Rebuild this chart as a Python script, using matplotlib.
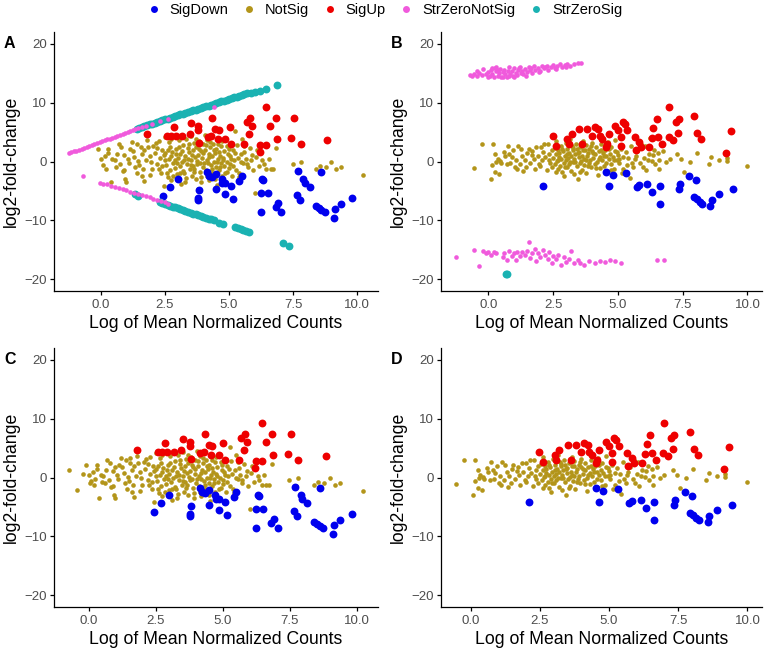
import numpy as np
import matplotlib
matplotlib.use("Agg")
import matplotlib.pyplot as plt
from matplotlib.lines import Line2D

plt.rcParams['font.family'] = ['Liberation Sans', 'DejaVu Sans']

# ---- data (x = log mean normalized counts, y = log2 fold change) ----
categories = ['SigDown', 'NotSig', 'SigUp', 'StrZeroNotSig', 'StrZeroSig']
colors = {'SigDown': '#0000EE', 'NotSig': '#B3951A', 'SigUp': '#EE0000',
          'StrZeroNotSig': '#F05ADC', 'StrZeroSig': '#1AB2B2'}

# panels A and C share the same genes for NotSig / SigUp / SigDown
ac_notsig = [
    (-0.1, 2.1), (0.0, 0.4), (0.1, -0.6), (0.15, 0.9), (0.2, -1.3), (0.3, 2.2), (0.3, 1.5), (0.4, -3.4),
    (0.45, 0.5), (0.55, 0.3), (0.6, -0.9), (0.7, 2.9), (0.75, -0.4), (0.8, 2.4), (0.85, -1.6), (0.9, 1.1),
    (0.95, -2.9), (1.0, -3.4), (1.05, 0.5), (1.1, -0.2), (1.2, 3.3), (1.25, 1.8), (1.3, 0.8), (1.35, -1.0),
    (1.4, 3.0), (1.45, 0.1), (1.5, -0.6), (1.55, 2.5), (1.6, 1.2), (1.65, -1.2), (1.7, -3.3), (1.75, 0.3),
    (1.8, 3.6), (1.85, 2.5), (1.9, 0.9), (1.92, -2.3), (1.95, -0.1), (2.05, 2.7), (2.1, 1.4), (2.15, 3.1),
    (2.2, -0.4), (2.25, -1.2), (2.3, 0.6), (2.35, -1.9), (2.4, 1.9), (2.45, 1.05), (2.45, -4.2), (2.5, 4.1),
    (2.5, 0.3), (2.55, -0.6), (2.6, 2.0), (2.62, -2.7), (2.65, 3.3), (2.68, 2.5), (2.7, -1.5), (2.72, 0.9),
    (2.75, -3.1), (2.78, 1.6), (2.8, -0.3), (2.85, 4.4), (2.88, 0.2), (2.9, -1.1), (2.95, 2.2), (2.98, -2.1),
    (3.0, 0.6), (3.05, 3.6), (3.08, -0.8), (3.1, 1.3), (3.12, -3.8), (3.15, 0.0), (3.2, 2.8), (3.22, -1.6),
    (3.25, -2.0), (3.28, 1.0), (3.3, -3.4), (3.32, 3.9), (3.35, -0.4), (3.38, 0.5), (3.4, 2.3), (3.45, 1.6),
    (3.48, -1.2), (3.5, 4.3), (3.52, 0.2), (3.55, -2.5), (3.58, 1.9), (3.6, -0.7), (3.62, 3.1), (3.65, -1.2),
    (3.68, 0.8), (3.7, -3.0), (3.72, 2.5), (3.75, 0.1), (3.78, 1.05), (3.8, -4.6), (3.82, 3.4), (3.85, -0.3),
    (3.88, -1.75), (3.9, 1.7), (3.92, -2.6), (3.95, 0.6), (3.98, 2.9), (4.0, -0.9), (4.05, 4.5), (4.08, 1.9),
    (4.1, -1.5), (4.12, 0.3), (4.15, 3.6), (4.18, -0.2), (4.2, -3.1), (4.22, 1.2), (4.25, 2.4), (4.3, -0.6),
    (4.32, 0.9), (4.35, -2.0), (4.38, 3.0), (4.4, -0.1), (4.45, 1.5), (4.48, -1.0), (4.5, 2.2), (4.52, -4.0),
    (4.55, 0.4), (4.58, 3.0), (4.6, -1.4), (4.65, 1.0), (4.68, -0.3), (4.7, 2.6), (4.72, -2.4), (4.75, 0.6),
    (4.8, 1.8), (4.82, -0.8), (4.85, 3.9), (4.9, 0.0), (4.92, -1.7), (4.95, 1.3), (4.98, 2.2), (5.02, -0.5),
    (5.05, 0.9), (5.1, -2.4), (5.15, 1.9), (5.2, 0.3), (5.25, 5.2), (5.28, -1.4), (5.32, 2.8), (5.35, 0.6),
    (5.4, -2.7), (5.45, 1.2), (5.5, 3.8), (5.55, -0.2), (5.6, 1.6), (5.65, 0.45), (5.72, -1.0), (5.8, 2.3),
    (5.85, 0.2), (5.95, -1.5), (6.0, -5.3), (6.05, 0.7), (6.1, 2.0), (6.2, 1.8), (6.3, 0.2), (6.36, -0.4),
    (6.45, -1.3), (6.55, 0.5), (6.62, -1.2), (6.72, -1.2), (6.84, 2.3), (7.48, -0.5), (7.72, -1.4),
    (7.81, -0.1), (8.39, -1.2), (8.56, -0.8), (8.78, -0.95), (8.98, -0.1), (9.18, -1.35), (9.36, -0.95),
    (10.23, -2.24),
    (2.52, 1.5), (2.58, -1.9), (2.66, 0.5), (2.74, 3.9), (2.83, -2.4), (2.92, 1.2), (2.97, -0.3),
    (3.03, 2.5), (3.1, -1.9), (3.18, 1.7), (3.26, 0.3), (3.34, -2.8), (3.42, 2.9), (3.5, -0.6), (3.57, 1.1),
    (3.63, -1.8), (3.71, 3.8), (3.76, -0.4), (3.84, 2.1), (3.91, -3.5), (3.97, 1.4), (4.03, -0.2),
    (4.09, 2.8), (4.14, -2.4), (4.2, 0.7), (4.27, 3.3), (4.33, -1.2), (4.41, 1.9), (4.47, -2.9), (4.53, 0.0),
    (4.59, 1.6), (4.66, -0.9), (4.73, 3.4), (4.78, 0.3), (4.86, -2.0), (4.93, 2.6), (5.0, -1.1), (5.08, 0.4),
    (5.17, -0.7), (5.24, 1.4), (5.38, -1.9), (5.48, 0.0), (5.58, 2.6), (5.7, -0.5), (5.9, 1.1), (6.15, -0.8),
    (1.15, 2.1), (1.42, -2.0), (1.7, 1.9), (2.0, -1.2), (2.2, 2.3), (2.38, -0.8), (0.65, 1.3), (0.92, -1.4),
    (1.6, -2.5), (2.28, 3.5),
]
c_notsig_extra = [(-0.74, 1.2), (-0.44, -2.2), (-0.2, 0.6), (0.05, -1.0), (0.25, -0.3), (0.5, -0.8),
                  (1.0, 1.7), (1.55, 3.3)]
ac_up = [
    (1.79, 4.7), (2.59, 4.3), (2.72, 4.4), (2.86, 5.8), (2.93, 4.4), (3.17, 4.4), (3.46, 4.7), (3.52, 6.6),
    (3.79, 6.1), (3.79, 5.3), (3.83, 3.1), (4.32, 7.35), (4.16, 4.2), (4.28, 4.4), (4.47, 5.6), (4.59, 5.3),
    (4.56, 3.9), (4.84, 3.9), (5.02, 5.8), (5.09, 3.0), (5.6, 2.9), (5.68, 6.7), (5.83, 7.4), (5.77, 4.7),
    (5.9, 6.1), (6.22, 2.75), (6.44, 9.3), (6.6, 6.0), (6.44, 2.75), (6.84, 7.4), (6.88, 3.9), (6.2, 1.6),
    (7.41, 4.0), (7.52, 7.4), (7.8, 3.0), (8.83, 3.7),
]
ac_down = [
    (2.43, -5.8), (2.7, -4.4), (3.01, -2.9), (3.81, -4.8), (3.79, -6.2), (3.77, -6.5), (4.14, -1.75),
    (4.22, -2.5), (4.35, -2.6), (4.5, -2.1), (4.49, -4.7), (4.72, -2.9), (4.74, -3.6), (4.84, -3.7),
    (4.84, -5.6), (5.09, -4.2), (5.14, -6.4), (5.4, -3.3), (5.49, -2.4), (6.23, -5.4), (6.23, -8.6),
    (6.3, -2.9), (6.33, -3.1), (6.5, -5.4), (6.81, -7.75), (6.9, -7.0), (7.04, -8.6), (7.68, -1.6),
    (7.64, -5.7), (7.77, -6.5), (7.9, -2.9), (7.96, -3.7), (8.15, -4.4), (8.4, -7.5), (8.51, -7.9),
    (8.6, -8.2), (8.73, -8.6), (8.6, -1.85), (9.1, -9.6), (9.14, -8.1), (9.35, -7.2), (9.81, -6.2),
]
a_strzero_notsig = [
    (-1.25, 1.4), (-1.15, 1.55), (-1.05, 1.7), (-0.95, 1.85), (-0.85, 2.0), (-0.75, 2.15), (-0.65, 2.35),
    (-0.55, 2.5), (-0.45, 2.65), (-0.35, 2.8), (-0.25, 3.0), (-0.15, 3.15), (-0.05, 3.3), (0.05, 3.45),
    (0.15, 3.6), (0.25, 3.75), (0.35, 3.9), (0.45, 4.05), (0.55, 4.2), (0.65, 4.4), (0.75, 4.55),
    (0.85, 4.7), (0.95, 4.85), (1.05, 5.0), (1.15, 5.15), (1.25, 5.3), (1.35, 5.5), (1.45, 5.65),
    (1.6, 5.85), (1.75, 6.05), (2.0, 6.4), (2.3, 6.8), (2.6, 7.2), (4.4, 9.3),
    (-0.71, -2.5), (-0.05, -3.6), (0.1, -3.75), (0.25, -3.9), (0.4, -4.1), (0.55, -4.3), (0.7, -4.5),
    (0.85, -4.7), (1.0, -4.9), (1.15, -5.1), (1.3, -5.3), (1.45, -5.5), (1.6, -5.7), (1.75, -5.9),
    (1.9, -6.1), (2.05, -6.3), (2.2, -6.55), (2.35, -6.75), (2.5, -6.95), (2.6, -7.2),
]
a_strzero_sig = [
    (1.4, 5.6), (1.5, 5.75), (1.6, 5.9), (1.7, 6.0), (1.8, 6.15), (1.9, 6.3), (2.0, 6.45), (2.1, 6.6),
    (2.2, 6.7), (2.3, 6.85), (2.4, 7.0), (2.5, 7.15), (2.6, 7.3), (2.7, 7.4), (2.8, 7.55), (2.9, 7.7),
    (3.0, 7.85), (3.1, 8.0), (3.2, 8.1), (3.3, 8.25), (3.4, 8.4), (3.5, 8.55), (3.6, 8.7), (3.7, 8.8),
    (3.8, 8.95), (3.9, 9.1), (4.0, 9.25), (4.1, 9.4), (4.2, 9.5), (4.3, 9.65), (4.4, 9.8), (4.5, 9.95),
    (4.6, 10.1), (4.7, 10.2), (4.8, 10.35), (4.9, 10.5), (5.0, 10.6), (5.1, 10.75), (5.2, 10.9),
    (5.3, 11.0), (5.4, 11.15), (5.5, 11.3), (5.6, 11.45), (5.7, 11.6), (5.85, 11.7), (6.0, 11.8),
    (6.2, 11.95), (6.45, 12.3), (6.86, 13.0),
    (1.32, -5.6), (1.45, -5.8), (2.3, -6.9), (2.4, -7.05), (2.5, -7.2), (2.6, -7.35), (2.7, -7.5),
    (2.8, -7.65), (2.9, -7.8), (3.0, -7.95), (3.1, -8.1), (3.2, -8.25), (3.3, -8.4), (3.4, -8.55),
    (3.5, -8.7), (3.6, -8.85), (3.7, -9.0), (3.8, -9.15), (3.9, -9.3), (4.0, -9.45), (4.1, -9.6),
    (4.2, -9.7), (4.3, -9.85), (4.4, -10.0), (4.6, -10.5), (4.75, -10.7), (5.25, -11.2), (5.35, -11.35),
    (5.45, -11.5), (5.55, -11.6), (5.65, -11.75), (5.78, -12.0), (7.1, -13.9), (7.32, -14.3),
]

# panels B and D share the same genes for NotSig / SigUp / SigDown
bd_notsig = [
    (-0.54, -1.1), (-0.24, 3.0), (0.1, -2.9), (0.17, 3.0), (0.15, -0.6), (0.26, 1.35), (0.3, -0.1),
    (0.26, -1.7), (0.35, 0.5), (0.42, -2.1), (0.5, -0.3), (0.6, 1.6), (0.62, 0.9), (0.7, -0.4), (0.75, 2.7),
    (0.83, -0.2), (0.89, 0.7), (0.95, 1.9), (1.01, -0.9), (1.05, 0.3), (1.13, 2.6), (1.2, -0.4), (1.25, 2.2),
    (1.3, 0.9), (1.35, -1.6), (1.45, -0.9), (1.5, 1.4), (1.55, 2.2), (1.6, -0.2), (1.67, 1.1), (1.75, 0.4),
    (1.8, -1.2), (1.85, 2.5), (1.9, 1.0), (1.95, -0.5), (2.02, 2.4), (2.08, 0.2), (2.12, 1.6), (2.2, 0.8),
    (2.25, -1.4), (2.3, 2.9), (2.32, 0.2), (2.38, -0.3), (2.44, -0.9), (2.45, 1.9), (2.5, 0.6),
    (2.55, 2.3), (2.58, -0.4), (2.6, 1.2), (2.62, 3.4), (2.65, 0.1), (2.68, -1.3), (2.7, 2.0), (2.72, 0.8),
    (2.74, 1.4), (2.78, -0.7), (2.8, 2.7), (2.82, 0.4), (2.85, -1.8), (2.88, 1.7), (2.9, -0.2), (2.92, -2.5),
    (2.95, 1.0), (2.98, 3.2), (3.0, 0.2), (3.02, -1.0), (3.05, 2.2), (3.08, 0.6), (3.1, -0.5), (3.12, 1.5),
    (3.15, 3.8), (3.18, -1.6), (3.2, 0.9), (3.22, 2.6), (3.25, -0.1), (3.28, 1.9), (3.3, -2.2), (3.32, 0.4),
    (3.35, 1.2), (3.38, 3.0), (3.4, -0.8), (3.42, 2.1), (3.45, -2.9), (3.48, 0.7), (3.5, 1.6), (3.52, -0.3),
    (3.55, 2.4), (3.58, 0.1), (3.6, -1.4), (3.62, 1.0), (3.65, 3.5), (3.68, 0.5), (3.7, -0.6), (3.72, 1.9),
    (3.75, 2.8), (3.78, -1.9), (3.8, 0.9), (3.85, 1.4), (3.88, -0.2), (3.9, 2.2), (3.92, 0.3), (3.95, -1.0),
    (3.98, 1.7), (4.0, 3.1), (4.05, 0.6), (4.1, -0.5), (4.12, 1.2), (4.15, 2.5), (4.2, 0.0), (4.22, -2.3),
    (4.25, 1.8), (4.3, 0.8), (4.32, -1.1), (4.35, 2.9), (4.4, 0.3), (4.42, 1.5), (4.45, -0.7), (4.5, 2.0),
    (4.55, 0.9), (4.58, -1.6), (4.6, 3.3), (4.65, 0.4), (4.7, 1.3), (4.72, -0.4), (4.75, 2.4), (4.8, 0.7),
    (4.85, -1.2), (4.88, 1.8), (4.9, 3.6), (4.95, 0.2), (5.0, 1.1), (5.05, -0.3), (5.1, 2.1), (5.15, -2.0),
    (5.2, 0.8), (5.3, 1.6), (5.35, -0.6), (5.45, -2.8), (5.5, 2.6), (5.6, -1.0), (5.65, 0.4), (5.75, 1.8),
    (5.85, -0.3), (5.9, 3.0), (6.0, 0.6), (6.05, 2.7), (6.1, -1.4), (6.2, 1.3), (6.25, 4.0), (6.3, 0.1),
    (6.4, 2.0), (6.45, -0.5), (6.55, 1.4), (6.6, 0.3), (6.7, 3.2), (6.75, 1.8), (6.85, 0.0), (7.3, 1.3),
    (7.45, 0.4), (7.55, -1.8), (7.8, 0.0), (8.05, 1.4), (8.5, -0.4), (8.6, 0.7), (8.9, 0.3), (9.2, 0.6),
    (9.2, 0.1), (10.0, -0.8),
    (0.45, 0.1), (0.8, 1.2), (1.1, -1.3), (1.4, 0.2), (1.7, 1.8), (2.0, -0.7), (2.15, 2.9), (2.35, 1.3),
    (2.6, -1.8), (2.7, 0.3), (2.85, 2.2), (2.95, -0.9), (3.05, 1.2), (3.15, -0.1), (3.25, 2.3), (3.35, 0.0),
    (3.45, 1.5), (3.55, -1.8), (3.65, 2.0), (3.75, 0.3), (3.85, -0.7), (3.95, 2.6), (4.05, 1.5),
    (4.15, -1.1), (4.25, 0.4), (4.35, 1.9), (4.45, 0.9), (4.55, -0.3), (4.65, 2.2), (4.75, -1.5),
    (4.85, 0.2), (4.95, 1.6), (5.05, 0.5), (5.2, -1.2), (5.4, 0.6), (5.55, -0.3), (5.7, 1.0), (5.95, -0.9),
    (6.15, 0.3), (6.35, 1.1), (6.6, -1.3), (7.0, 0.5),
]
bd_up = [
    (2.48, 4.4), (2.62, 2.6), (3.04, 3.9), (3.1, 3.0), (3.21, 4.7), (3.51, 5.6), (3.81, 5.6), (3.63, 3.0),
    (4.11, 5.8), (4.23, 5.6), (3.99, 4.4), (4.29, 4.4), (4.4, 3.9), (4.52, 2.5), (4.64, 4.7), (4.58, 3.0),
    (4.88, 6.1), (5.0, 5.3), (5.1, 4.2), (5.18, 6.7), (5.26, 6.4), (5.12, 2.6), (5.36, 5.3), (5.65, 4.2),
    (5.69, 2.0), (5.83, 3.3), (5.89, 2.5), (6.19, 2.5), (6.31, 4.0), (6.37, 5.7), (6.49, 7.25), (6.55, 4.2),
    (6.7, 3.0), (6.99, 9.3), (6.96, 4.2), (7.12, 3.6), (7.24, 6.7), (7.36, 7.2), (7.32, 4.8), (7.94, 7.8),
    (8.07, 4.8), (8.21, 3.9), (9.17, 1.5), (9.35, 5.2),
]
bd_down = [
    (2.12, -4.2), (4.52, -1.7), (4.64, -4.2), (4.8, -2.3), (5.32, -2.0), (5.74, -4.3), (5.83, -4.0),
    (6.14, -3.8), (6.33, -5.1), (6.61, -4.2), (6.61, -7.2), (7.36, -4.7), (7.4, -3.8), (7.76, -2.5),
    (8.01, -3.1), (7.94, -6.1), (8.04, -6.4), (8.15, -6.9), (8.25, -7.2), (8.57, -7.6), (8.63, -6.6),
    (8.89, -5.5), (9.44, -4.7),
]
b_strzero_notsig = [
    (-0.7, 14.7), (-0.62, 14.5), (-0.55, 14.9), (-0.45, 14.6), (-0.35, 15.0), (-0.25, 14.7), (-0.2, 15.7),
    (-0.1, 14.8), (0.0, 15.2), (0.05, 14.5), (0.1, 15.6), (0.15, 14.9), (0.2, 14.3), (0.25, 15.9),
    (0.3, 15.3), (0.35, 14.6), (0.4, 15.0), (0.45, 15.7), (0.5, 14.4), (0.55, 15.2), (0.6, 15.6),
    (0.65, 14.8), (0.7, 14.4), (0.75, 15.4), (0.8, 16.0), (0.85, 14.9), (0.9, 15.3), (0.95, 14.6),
    (1.0, 15.8), (1.05, 15.1), (1.1, 14.7), (1.15, 15.5), (1.2, 16.1), (1.25, 15.0), (1.3, 15.4),
    (1.35, 14.8), (1.4, 15.7), (1.5, 15.2), (1.55, 16.0), (1.6, 15.5), (1.7, 15.1), (1.75, 16.2),
    (1.8, 15.6), (1.9, 15.9), (2.0, 15.4), (2.05, 16.3), (2.15, 15.8), (2.2, 16.0), (2.3, 15.6),
    (2.4, 16.1), (2.5, 16.4), (2.55, 15.9), (2.65, 16.2), (2.75, 16.5), (2.85, 16.1), (2.95, 16.4),
    (3.05, 16.6), (3.15, 16.3), (3.3, 16.6), (3.45, 16.7), (3.56, 16.8),
    (0.0, 14.3), (0.12, 15.95), (0.38, 15.5), (0.58, 14.3), (0.78, 14.6), (1.0, 14.3), (1.18, 15.9),
    (1.45, 14.6), (1.65, 15.9), (1.95, 15.2), (2.25, 16.3), (2.6, 15.7), (3.0, 16.0), (-0.45, 15.3),
    (0.3, 16.1),
    (-1.27, -16.3), (-0.54, -15.0), (-0.38, -17.7), (-0.22, -15.2), (-0.1, -15.6), (0.0, -15.4),
    (0.1, -15.8), (0.2, -15.3), (0.3, -15.6), (0.55, -16.3), (0.6, -15.5), (0.7, -16.8), (0.8, -15.2),
    (0.9, -16.0), (1.0, -15.6), (1.05, -16.7), (1.1, -15.3), (1.2, -16.1), (1.3, -15.4), (1.4, -15.9),
    (1.5, -15.2), (1.57, -13.6), (1.6, -16.4), (1.7, -15.6), (1.8, -14.9), (1.85, -16.9), (1.9, -15.5),
    (2.0, -16.2), (2.1, -15.1), (2.2, -15.8), (2.3, -16.6), (2.35, -15.4), (2.45, -17.2), (2.5, -16.0),
    (2.6, -16.6), (2.7, -15.8), (2.8, -17.5), (2.9, -16.3), (3.0, -17.0), (3.1, -16.5), (3.2, -15.2),
    (3.3, -17.3), (3.45, -16.8), (3.55, -17.2), (3.7, -17.6), (3.9, -16.9), (4.1, -17.3), (4.3, -16.9),
    (4.5, -17.1), (4.7, -16.8), (4.9, -16.9), (5.1, -17.2), (6.5, -16.7), (6.76, -16.7),
]
b_strzero_sig = [(0.66, -19.1), (0.72, -19.1)]

panels = {
    'A': {'NotSig': ac_notsig, 'SigUp': ac_up, 'SigDown': ac_down,
          'StrZeroSig': a_strzero_sig, 'StrZeroNotSig': a_strzero_notsig},
    'B': {'NotSig': bd_notsig, 'SigUp': bd_up, 'SigDown': bd_down,
          'StrZeroSig': b_strzero_sig, 'StrZeroNotSig': b_strzero_notsig},
    'C': {'NotSig': ac_notsig + c_notsig_extra, 'SigUp': ac_up, 'SigDown': ac_down},
    'D': {'NotSig': bd_notsig, 'SigUp': bd_up, 'SigDown': bd_down},
}
sizes = {'NotSig': 11, 'StrZeroNotSig': 11, 'SigUp': 32, 'SigDown': 32, 'StrZeroSig': 32}
draw_order = ['NotSig', 'SigUp', 'SigDown', 'StrZeroSig', 'StrZeroNotSig']

# axes boxes in pixels: left, top, right, bottom
W, H = 767, 654
boxes = {'A': (54, 32, 378, 291), 'B': (441, 32, 762, 291),
         'C': (54, 348, 378, 607), 'D': (441, 348, 762, 607)}

fig = plt.figure(figsize=(W / 100, H / 100), dpi=100)

for name, series in panels.items():
    l, t, r, b = boxes[name]
    ax = fig.add_axes([l / W, 1 - b / H, (r - l) / W, (b - t) / H])
    allx = []
    for cat in draw_order:
        if cat not in series:
            continue
        pts = np.array(series[cat])
        allx.extend(pts[:, 0])
        ax.scatter(pts[:, 0], pts[:, 1], s=sizes[cat], color=colors[cat],
                   linewidths=0, zorder=2)
    lo, hi = min(allx), max(allx)
    pad = 0.05 * (hi - lo)
    ax.set_xlim(lo - pad, hi + pad)
    ax.set_ylim(-22, 22)
    ax.set_xticks([0, 2.5, 5, 7.5, 10])
    ax.set_xticklabels(['0.0', '2.5', '5.0', '7.5', '10.0'])
    ax.set_yticks([-20, -10, 0, 10, 20])
    for s in ['top', 'right']:
        ax.spines[s].set_visible(False)
    for s in ['left', 'bottom']:
        ax.spines[s].set_linewidth(0.9)
    ax.tick_params(length=3, width=0.9, labelsize=9.5, labelcolor='#4D4D4D')
    ax.tick_params(axis='x', pad=3)
    ax.tick_params(axis='y', pad=2)
    ax.set_xlabel('Log of Mean Normalized Counts', fontsize=12.7, labelpad=3)
    ax.set_ylabel('log2-fold-change', fontsize=12.7, labelpad=3)
    fig.text((l - 50) / W, 1 - (t + 11) / H, name, fontsize=11.5, fontweight='bold',
             ha='left', va='center')

handles = [Line2D([], [], marker='o', linestyle='', markersize=5,
                  markerfacecolor=colors[c], markeredgewidth=0) for c in categories]
fig.legend(handles, categories, loc='center', bbox_to_anchor=(0.5, 1 - 10 / H), ncol=5,
           frameon=False, fontsize=10.5, handletextpad=0.5, columnspacing=0.8,
           handlelength=1.2)

fig.savefig('out.png', dpi=100)
